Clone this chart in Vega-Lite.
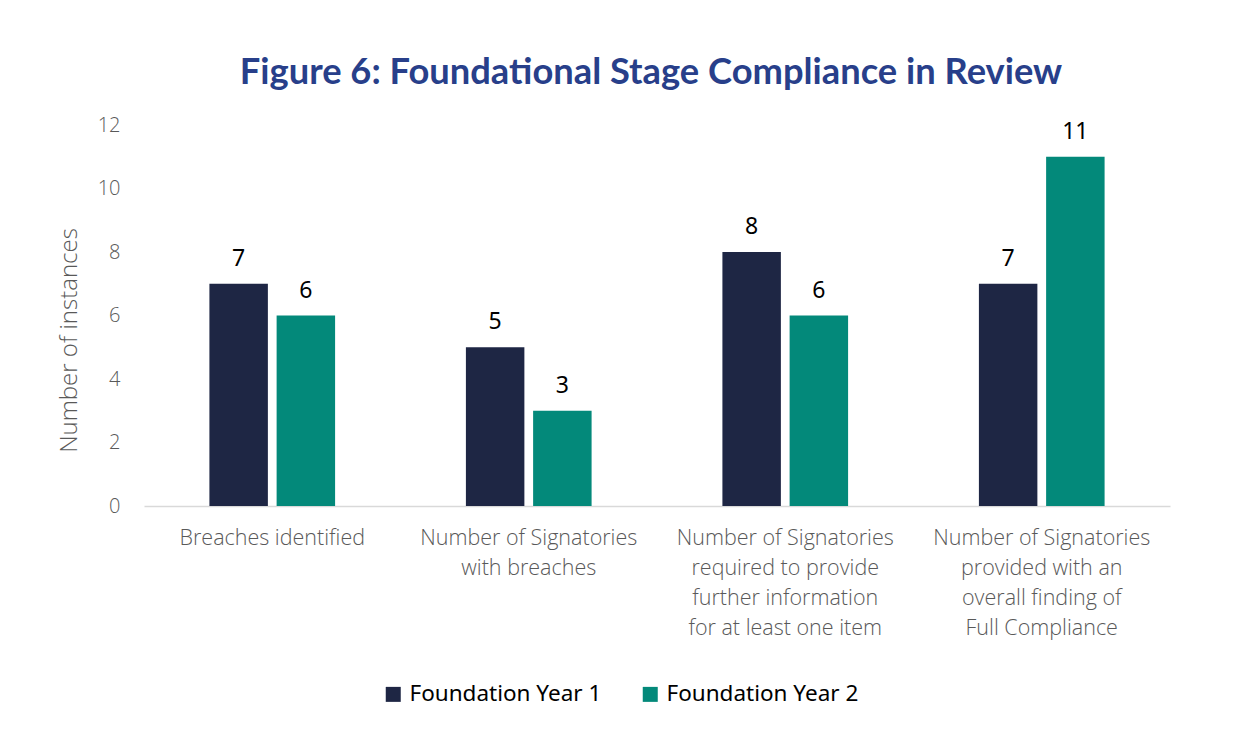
{
  "$schema": "https://vega.github.io/schema/vega-lite/v6.json",
  "autosize": {"type": "none"},
  "padding": {"left": 144, "top": 125, "right": 65, "bottom": 230},
  "width": 1026,
  "height": 381,
  "background": "white",
  "title": {
    "text": "Figure 6: Foundational Stage Compliance in Review",
    "font": "Lato",
    "fontSize": 36.3,
    "fontWeight": "bold",
    "color": "#283f8a",
    "anchor": "middle",
    "dx": -6,
    "offset": 24
  },
  "data": {
    "values": [
      {"category": "Breaches identified", "series": "Foundation Year 1", "value": 7},
      {"category": "Breaches identified", "series": "Foundation Year 2", "value": 6},
      {"category": "Number of Signatories|with breaches", "series": "Foundation Year 1", "value": 5},
      {"category": "Number of Signatories|with breaches", "series": "Foundation Year 2", "value": 3},
      {"category": "Number of Signatories|required to provide|further information|for at least one item", "series": "Foundation Year 1", "value": 8},
      {"category": "Number of Signatories|required to provide|further information|for at least one item", "series": "Foundation Year 2", "value": 6},
      {"category": "Number of Signatories|provided with an|overall finding of|Full Compliance", "series": "Foundation Year 1", "value": 7},
      {"category": "Number of Signatories|provided with an|overall finding of|Full Compliance", "series": "Foundation Year 2", "value": 11}
    ]
  },
  "encoding": {
    "x": {
      "field": "category",
      "type": "nominal",
      "sort": null,
      "scale": {"paddingInner": 0.51, "paddingOuter": 0.255},
      "axis": {
        "title": null,
        "labelAngle": 0,
        "labelExpr": "split(datum.label, '|')",
        "labelFont": "Open Sans",
        "labelFontWeight": 300,
        "labelFontSize": 21.5,
        "labelColor": "#595959",
        "labelLineHeight": 30,
        "labelPadding": 21,
        "ticks": false,
        "domainColor": "#d9d9d9",
        "domainWidth": 1.5,
        "labelLimit": 300
      }
    },
    "xOffset": {"field": "series", "type": "nominal", "scale": {"paddingInner": 0.13}},
    "y": {
      "field": "value",
      "type": "quantitative",
      "scale": {"domain": [0, 12]},
      "axis": {
        "title": "Number of instances",
        "titleFont": "Open Sans",
        "titleFontWeight": 300,
        "titleFontSize": 24,
        "titleColor": "#595959",
        "titlePadding": 16,
        "titleY": 215,
        "values": [0, 2, 4, 6, 8, 10, 12],
        "labelFont": "Open Sans",
        "labelFontWeight": 300,
        "labelFontSize": 20,
        "labelColor": "#595959",
        "labelPadding": 24,
        "ticks": false,
        "domain": false,
        "grid": false
      }
    },
    "color": {
      "field": "series",
      "type": "nominal",
      "scale": {"domain": ["Foundation Year 1", "Foundation Year 2"], "range": ["#1e2644", "#03897a"]},
      "legend": {
        "title": null,
        "orient": "none",
        "legendX": 238,
        "legendY": 558,
        "direction": "horizontal",
        "symbolType": "square",
        "symbolSize": 225,
        "symbolStrokeWidth": 0,
        "labelFont": "Noto Sans",
        "labelFontSize": 22.5,
        "labelColor": "#000000",
        "labelLimit": 300,
        "labelOffset": 5,
        "columnPadding": 37
      }
    }
  },
  "layer": [
    {"mark": {"type": "bar"}},
    {
      "mark": {"type": "text", "baseline": "bottom", "dy": -13, "font": "Noto Sans", "fontSize": 23, "color": "#000000"},
      "encoding": {"text": {"field": "value", "type": "quantitative"}, "color": {"value": "#000000"}}
    }
  ],
  "config": {"view": {"stroke": null}}
}
